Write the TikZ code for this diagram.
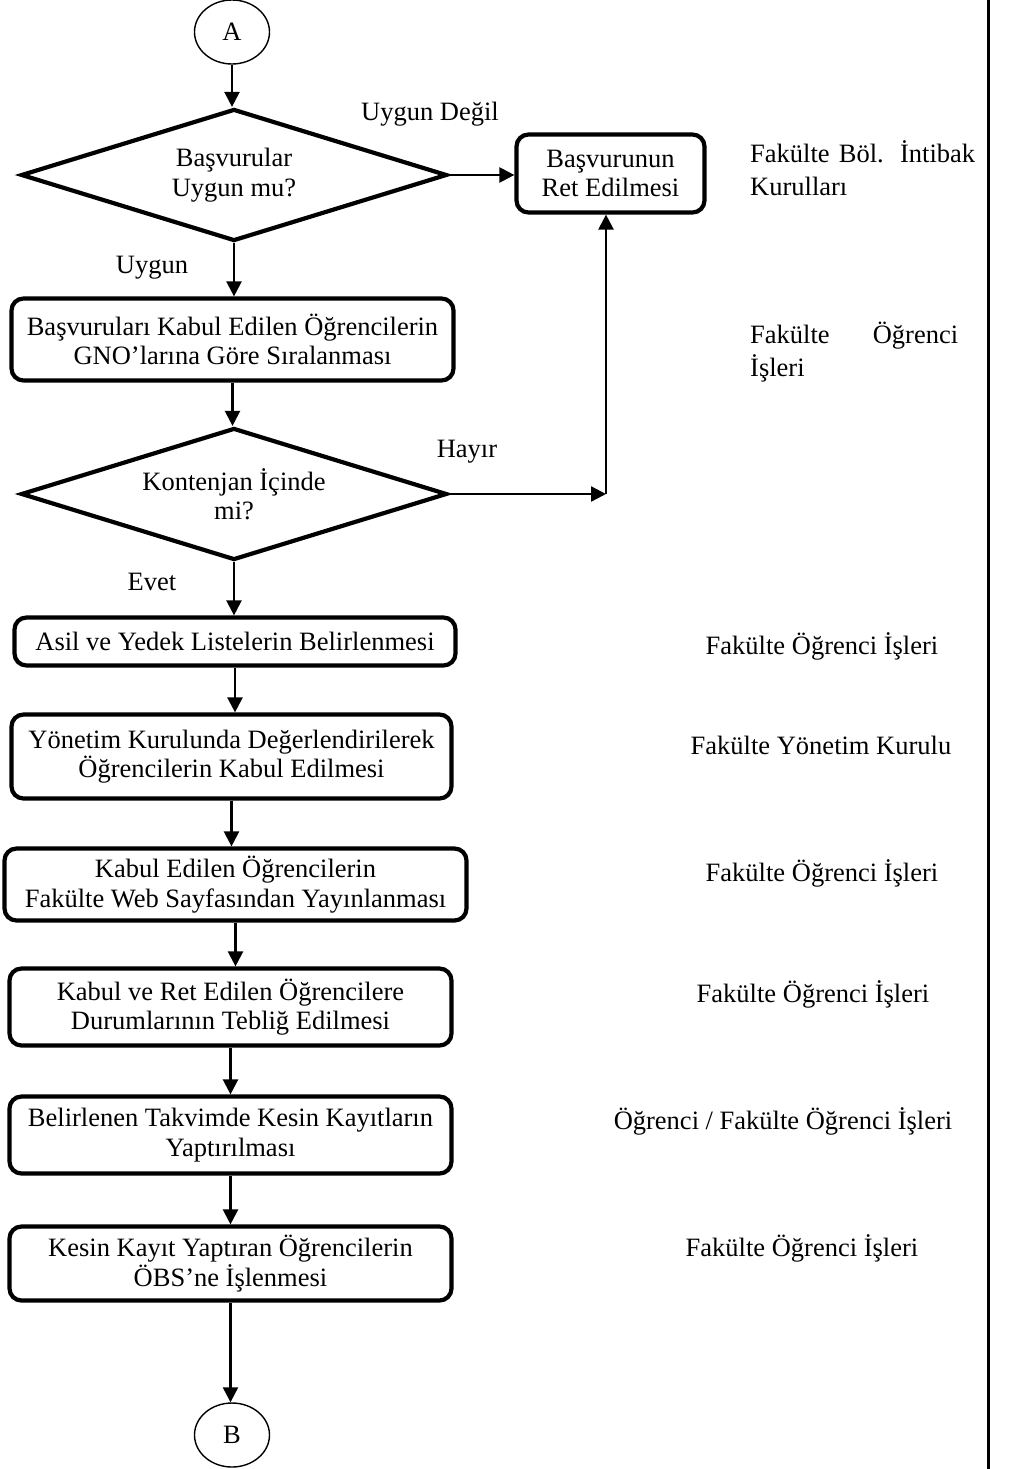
\documentclass[tikz,border=0pt]{standalone}
\usepackage{fontspec}
\setmainfont{Liberation Serif}
\usetikzlibrary{shapes.geometric,arrows.meta}
\begin{document}
\begin{tikzpicture}[x=1pt,y=-1pt,
  every node/.style={font=\fontsize{26.5}{29.5}\selectfont},
  box/.style={draw, line width=4.2pt, rounded corners=12pt, align=center, inner sep=0pt},
  dia/.style={draw, diamond, line width=4.2pt, aspect=3.2, inner sep=0pt, align=center,
              minimum width=426pt, minimum height=132pt},
  conn/.style={draw, ellipse, line width=1.4pt, minimum width=75pt, minimum height=64pt, inner sep=0pt},
  arr/.style={line width=2.3pt, -{Triangle[length=15pt,width=15pt]}},
  lbl/.style={anchor=base, inner sep=0pt},
  lblw/.style={anchor=base west, inner sep=0pt},
]
\useasboundingbox (0,0) rectangle (1010,1469);

% main flow
\node[conn] (A) at (232,32) {A};
\node[dia] (d1) at (234,175) {Başvurular\\Uygun mu?};
\node[box, minimum width=188pt, minimum height=78pt] (ret) at (610.5,173.5) {Başvurunun\\Ret Edilmesi};
\node[box, minimum width=442pt, minimum height=82pt] (b2) at (232.5,339.5) {Başvuruları Kabul Edilen Öğrencilerin\\GNO’larına Göre Sıralanması};
\node[dia] (d2) at (234,494) {Kontenjan İçinde\\mi?};
\node[box, minimum width=441pt, minimum height=48pt] (b3) at (235,641.5) {Asil ve Yedek Listelerin Belirlenmesi};
\node[box, minimum width=440pt, minimum height=84pt] (b4) at (231.5,756.5) {Yönetim Kurulunda Değerlendirilerek\\Öğrencilerin Kabul Edilmesi};
\node[box, minimum width=462pt, minimum height=72pt] (b5) at (235.5,884.5) {Kabul Edilen Öğrencilerin\\Fakülte Web Sayfasından Yayınlanması};
\node[box, minimum width=442pt, minimum height=77pt] (b6) at (230.5,1007) {Kabul ve Ret Edilen Öğrencilere\\Durumlarının Tebliğ Edilmesi};
\node[box, minimum width=442pt, minimum height=77pt] (b7) at (230.5,1135) {Belirlenen Takvimde Kesin Kayıtların\\Yaptırılması};
\node[box, minimum width=442pt, minimum height=74pt] (b8) at (230.5,1263.5) {Kesin Kayıt Yaptıran Öğrencilerin\\ÖBS’ne İşlenmesi};
\node[conn] (B) at (232,1435) {B};
\coordinate (corner) at (606,494);

% connectors
\draw[arr] (A.south) -- (A.south |- d1.north);
\draw[arr] (d1.south) -- (d1.south |- b2.north);
\draw[arr] (d1.east) -- (d1.east -| ret.west);
\draw[arr] (b2.south) -- (b2.south |- d2.north);
\draw[arr] (d2.east) -- (corner);
\draw[arr] (corner) -- (corner |- ret.south);
\draw[arr] (d2.south) -- (d2.south |- b3.north);
\draw[arr] (b3.south) -- (b3.south |- b4.north);
\draw[arr] (b4.south) -- (b4.south |- b5.north);
\draw[arr] (b5.south) -- (b5.south |- b6.north);
\draw[arr] (b6.south) -- (b6.south |- b7.north);
\draw[arr] (b7.south) -- (b7.south |- b8.north);
\draw[arr] (b8.south) -- (b8.south |- B.north);

% connector labels
\node[lbl] (lUD) at (430,121) {Uygun Değil};
\node[lbl] (lH) at (467,457) {Hayır};
\node[lbl] (lU) at (152,273) {Uygun};
\node[lbl] (lE) at (152,590) {Evet};

% responsibility column
\node[lblw] (r1a) at (750,162) {\makebox[225pt][s]{Fakülte Böl. İntibak}};
\node[lblw] (r1b) at (750,195) {Kurulları};
\node[lblw] (r2a) at (750,343) {\makebox[208pt][s]{Fakülte Öğrenci}};
\node[lblw] (r2b) at (750,376) {İşleri};
\node[lbl] (r3) at (822,654) {Fakülte Öğrenci İşleri};
\node[lbl] (r4) at (821,754) {Fakülte Yönetim Kurulu};
\node[lbl] (r5) at (822,881) {Fakülte Öğrenci İşleri};
\node[lbl] (r6) at (813,1002) {Fakülte Öğrenci İşleri};
\node[lbl] (r7) at (783,1129) {Öğrenci / Fakülte Öğrenci İşleri};
\node[lbl] (r8) at (802,1256) {Fakülte Öğrenci İşleri};

% column border
\draw[line width=3pt] (988.5,0) -- (988.5,1469);
\end{tikzpicture}
\end{document}
